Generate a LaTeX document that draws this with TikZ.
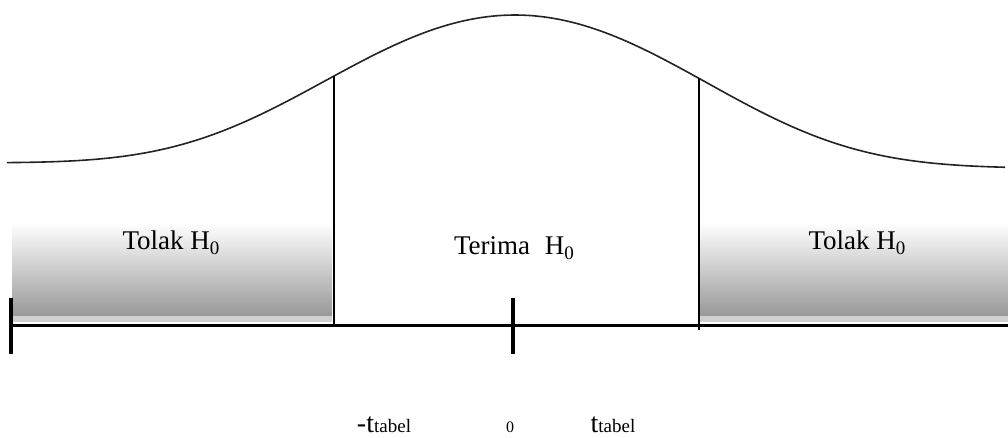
\documentclass[tikz,border=0pt]{standalone}
\usepackage{fontspec}
\setmainfont{Liberation Serif}
\usetikzlibrary{positioning}
\definecolor{ink}{RGB}{35,35,35}
\definecolor{fog}{RGB}{152,152,152}
\definecolor{haze}{RGB}{208,208,208}
\newcommand{\hnol}{H\raisebox{-5pt}{\fontsize{19}{19}\selectfont 0}}
\newcommand{\ttab}{t{\fontsize{19}{19}\selectfont tabel}}
\tikzset{
  zone/.style={top color=white,bottom color=fog,draw=none},
  strip/.style={fill=haze,draw=none},
  curve/.style={draw=ink,line width=1.6pt},
  crit/.style={draw=black,line width=1.2pt},
  axisline/.style={draw=black,line width=3pt},
  tickmark/.style={draw=black,line width=3.5pt},
  region/.style={font=\fontsize{27}{27}\selectfont,inner sep=0pt,anchor=base},
  axislbl/.style={font=\fontsize{28}{28}\selectfont,inner sep=0pt,anchor=base},
}
\begin{document}
\begin{tikzpicture}[x=1pt,y=-1pt]
  \useasboundingbox (0,0) rectangle (1008,437);
  % rejection zones
  \shade[zone] (12,223) rectangle (332,316);
  \fill[strip] (12,316) rectangle (332,322);
  \shade[zone] (700,223) rectangle (1008,316);
  \fill[strip] (700,316) rectangle (1008,322);
  % density curve
  \draw[curve] plot[domain=7:1005,samples=200,smooth]
    (\x,{163+5*(\x-7)/998-150.5*exp(-(0.15*((\x-516)/100)^2+0.003*((\x-516)/100)^4))});
  % axis and critical values
  \coordinate (axL) at (11,325);
  \coordinate (axR) at (1008,325);
  \coordinate (axM) at (513,325);
  \coordinate (critLtop) at (334,76);
  \coordinate (critLbot) at (334,325);
  \coordinate (critRtop) at (699,78);
  \coordinate (critRbot) at (699,330);
  \draw[crit] (critLtop) -- (critLbot);
  \draw[crit] (critRtop) -- (critRbot);
  \draw[axisline] (axL) -- (axR);
  \foreach \p in {axL,axM}
    \draw[tickmark] ([yshift=-29pt]\p) -- ([yshift=27pt]\p);
  % labels
  \node[region] (tolakL) at (171,249) {Tolak \hnol};
  \node[region] (terima) at (514,254) {Terima\hspace{0.55em}\hnol};
  \node[region] (tolakR) at (857,249) {Tolak \hnol};
  \node[axislbl] (ttabL) at (384,432) {-\ttab};
  \node[axislbl,font=\fontsize{16}{16}\selectfont] (nol) at (510,432) {0};
  \node[axislbl] (ttabR) at (613,432) {\ttab};
\end{tikzpicture}
\end{document}
